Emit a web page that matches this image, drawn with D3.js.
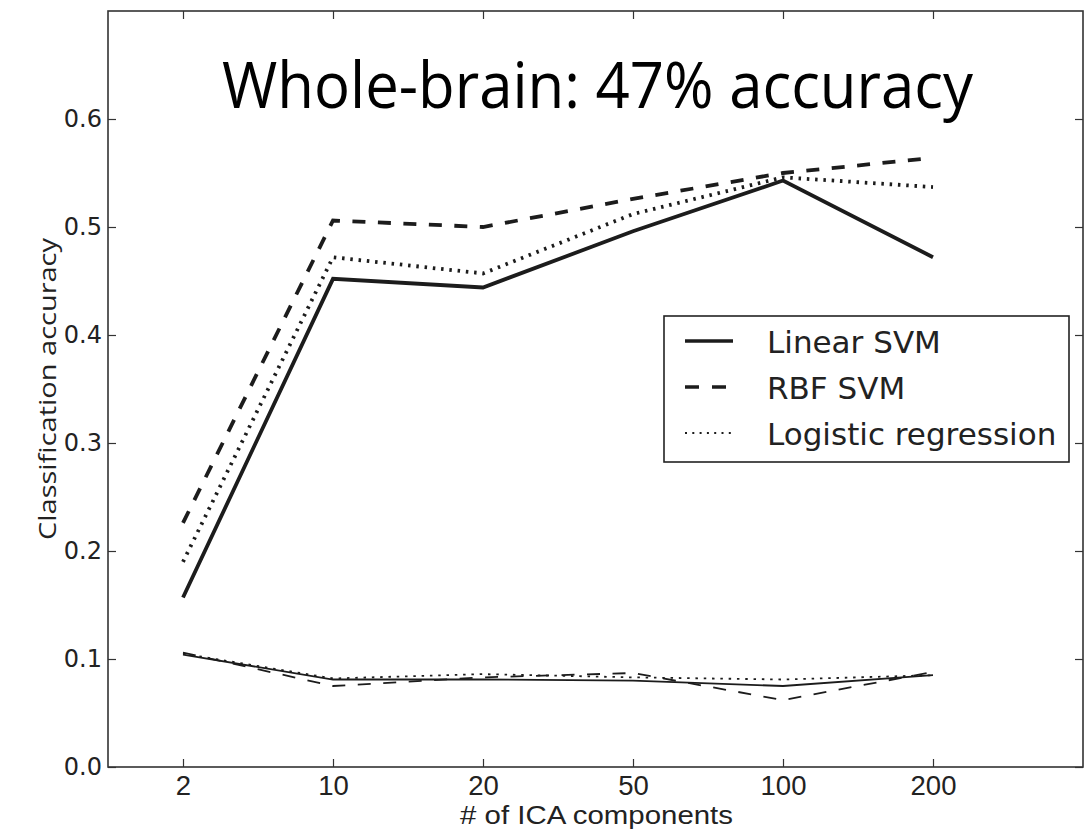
<!DOCTYPE html>
<html>
<head>
<meta charset="utf-8">
<script src="https://cdn.jsdelivr.net/npm/d3@7"></script>
<style>
  html, body { margin: 0; padding: 0; background: #fff; }
  svg { display: block; }
</style>
</head>
<body>
<script>
// Number of ICA components tested (evenly spaced categories on the x axis)
const components = ["2", "10", "20", "50", "100", "200"];
const yTicks = [0.0, 0.1, 0.2, 0.3, 0.4, 0.5, 0.6];

// Classification accuracy per classifier
const linearSvm = [0.157, 0.452, 0.444, 0.496, 0.543, 0.472];
const rbfSvm    = [0.226, 0.506, 0.500, 0.526, 0.550, 0.564];
const logReg    = [0.190, 0.472, 0.457, 0.512, 0.546, 0.537];

// Accuracy with shuffled labels (chance level)
const linearSvmPerm = [0.104, 0.081, 0.081, 0.080, 0.075, 0.085];
const rbfSvmPerm    = [0.106, 0.075, 0.083, 0.087, 0.062, 0.088];
const logRegPerm    = [0.105, 0.082, 0.086, 0.083, 0.081, 0.085];

const legendLabels = ["Linear SVM", "RBF SVM", "Logistic regression"];
const title = "Whole-brain: 47% accuracy";

const W = 1084, H = 830;
const frame = { left: 108, right: 1083, top: 11, bottom: 767 };
const ink = "#1c1c1c";

const svg = d3.select("body").append("svg")
  .attr("width", W).attr("height", H);

const x = d3.scaleLinear().domain([-0.5, 6]).range([frame.left, frame.right]);
const y = d3.scaleLinear().domain([0, 0.7]).range([frame.bottom, frame.top]);
const idx = components.map((_, i) => i);

// Axes with inward ticks on all four sides
const bottomAxis = d3.axisBottom(x).tickValues(idx)
  .tickFormat(i => components[i]).tickSize(-8).tickPadding(8);
const topAxis = d3.axisTop(x).tickValues(idx).tickFormat("").tickSize(-8);
const leftAxis = d3.axisLeft(y).tickValues(yTicks)
  .tickFormat(d3.format(".1f")).tickSize(-8).tickPadding(6);
const rightAxis = d3.axisRight(y).tickValues(yTicks).tickFormat("").tickSize(-8);

function styleAxis(g) {
  g.select(".domain").remove();
  g.selectAll(".tick line").attr("stroke", "#333").attr("stroke-width", 1.2);
}

svg.append("g").attr("transform", `translate(0,${frame.bottom})`).call(bottomAxis)
  .call(styleAxis)
  .call(g => g.selectAll("text")
    .attr("font-family", "'Liberation Sans', Arial, sans-serif")
    .attr("font-size", 27.5).attr("fill", "#222"));
svg.append("g").attr("transform", `translate(0,${frame.top})`).call(topAxis).call(styleAxis);
svg.append("g").attr("transform", `translate(${frame.left},0)`).call(leftAxis)
  .call(styleAxis)
  .call(g => g.selectAll("text")
    .attr("font-family", "'DejaVu Sans', sans-serif")
    .attr("font-size", 24).attr("fill", "#222"));
svg.append("g").attr("transform", `translate(${frame.right},0)`).call(rightAxis).call(styleAxis);

// Plot frame
svg.append("rect")
  .attr("x", frame.left).attr("y", frame.top)
  .attr("width", frame.right - frame.left).attr("height", frame.bottom - frame.top)
  .attr("fill", "none").attr("stroke", "#333").attr("stroke-width", 1.6);

const line = d3.line().x((d, i) => x(i)).y(d => y(d));

const styles = [
  { dash: null },
  { dash: "13,12.5" },
  { dash: "2.5,5.8" }
];

const mainSeries = [linearSvm, rbfSvm, logReg];
const permSeries = [linearSvmPerm, rbfSvmPerm, logRegPerm];

permSeries.forEach((s, k) => {
  svg.append("path").datum(s)
    .attr("d", line)
    .attr("fill", "none").attr("stroke", ink)
    .attr("stroke-width", 1.8)
    .attr("stroke-dasharray", styles[k].dash);
});

mainSeries.forEach((s, k) => {
  svg.append("path").datum(s)
    .attr("d", line)
    .attr("fill", "none").attr("stroke", ink)
    .attr("stroke-width", 3.8)
    .attr("stroke-dasharray", styles[k].dash);
});

// Title inside the axes
svg.append("text")
  .attr("x", 222).attr("y", 108)
  .attr("font-family", "'Open Sans', sans-serif")
  .attr("font-size", 64)
  .attr("textLength", 751).attr("lengthAdjust", "spacingAndGlyphs")
  .attr("fill", "#000")
  .text(title);

// Axis labels
svg.append("text")
  .attr("x", 460).attr("y", 824)
  .attr("font-family", "'Liberation Sans', Arial, sans-serif")
  .attr("font-size", 26.5)
  .attr("textLength", 273).attr("lengthAdjust", "spacingAndGlyphs")
  .attr("fill", "#222")
  .text("# of ICA components");

svg.append("text")
  .attr("transform", "translate(56,389) rotate(-90)")
  .attr("text-anchor", "middle")
  .attr("font-family", "'Open Sans', sans-serif")
  .attr("font-size", 23)
  .attr("textLength", 302).attr("lengthAdjust", "spacingAndGlyphs")
  .attr("fill", "#222")
  .text("Classification accuracy");

// Legend
const lg = svg.append("g");
lg.append("rect")
  .attr("x", 664).attr("y", 316).attr("width", 405).attr("height", 146)
  .attr("fill", "#fff").attr("stroke", "#222").attr("stroke-width", 1.6);

const legendRowY = [341, 387, 433];
const legendStroke = [3.4, 3.4, 2.2];
legendLabels.forEach((lab, k) => {
  lg.append("line")
    .attr("x1", 685).attr("x2", 733)
    .attr("y1", legendRowY[k]).attr("y2", legendRowY[k])
    .attr("stroke", ink).attr("stroke-width", legendStroke[k])
    .attr("stroke-dasharray", k === 1 ? "14,13" : (k === 2 ? "2,5.3" : null));
  lg.append("text")
    .attr("x", 767).attr("y", legendRowY[k] + 11.5)
    .attr("font-family", "'DejaVu Sans', sans-serif")
    .attr("font-size", 31).attr("fill", "#222")
    .text(lab);
});
</script>
</body>
</html>
